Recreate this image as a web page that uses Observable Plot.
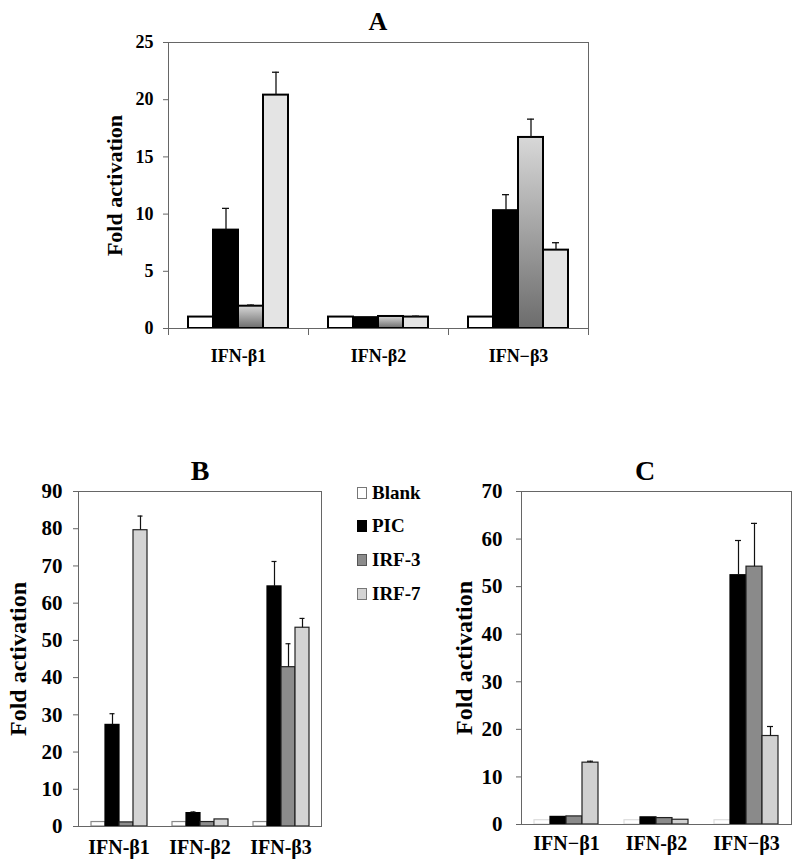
<!DOCTYPE html>
<html><head><meta charset="utf-8">
<script src="https://cdn.jsdelivr.net/npm/d3@7"></script>
<script src="https://cdn.jsdelivr.net/npm/@observablehq/plot@0.6"></script>
<style>
body{margin:0;background:#fff;}
#wrap{position:relative;width:800px;height:863px;overflow:hidden;font-family:"Liberation Serif","Times New Roman",serif;font-weight:bold;color:#000;background:#fff;}
.title{position:absolute;transform:translateX(-50%);line-height:1;white-space:nowrap;}
.leg{position:absolute;left:357px;font-size:19px;line-height:1;display:flex;align-items:center;white-space:nowrap;}
.sw{display:inline-block;width:10px;height:12px;box-sizing:border-box;margin-right:5px;}
svg text{font-weight:bold;}
</style></head><body>
<svg width="0" height="0" style="position:absolute"><defs>
<linearGradient id="gradA" x1="0" y1="0" x2="0" y2="1"><stop offset="0" stop-color="#d8d8d8"/><stop offset="1" stop-color="#6c6c6c"/></linearGradient>
</defs></svg>
<div id="wrap"></div>
<script>
// ---------- data ----------
const treatments = ["Blank", "PIC", "IRF-3", "IRF-7"];

// Panel A
const genesA = ["IFN-β1", "IFN-β2", "IFN−β3"];
const aBlank = [1, 1, 1];
const aPIC = [8.6, 0.95, 10.3];
const aIRF3 = [1.95, 1.05, 16.7];
const aIRF7 = [20.4, 1.0, 6.85];
const aBlankErr = [0, 0, 0];
const aPICErr = [1.9, 0, 1.4];
const aIRF3Err = [0.1, 0, 1.6];
const aIRF7Err = [2.0, 0.08, 0.65];
const yTicksA = [0, 5, 10, 15, 20, 25];

// Panel B
const genesB = ["IFN-β1", "IFN-β2", "IFN-β3"];
const bBlank = [1.2, 1.2, 1.2];
const bPIC = [27.3, 3.6, 64.5];
const bIRF3 = [1.1, 1.2, 42.8];
const bIRF7 = [79.6, 1.9, 53.4];
const bBlankErr = [0, 0, 0];
const bPICErr = [3.0, 0.3, 6.7];
const bIRF3Err = [0, 0, 6.3];
const bIRF7Err = [3.8, 0, 2.5];
const yTicksB = [0, 10, 20, 30, 40, 50, 60, 70, 80, 90];

// Panel C
const genesC = ["IFN−β1", "IFN-β2", "IFN−β3"];
const cBlank = [0.9, 0.9, 0.9];
const cPIC = [1.6, 1.5, 52.4];
const cIRF3 = [1.7, 1.35, 54.2];
const cIRF7 = [13.0, 1.0, 18.6];
const cBlankErr = [0, 0, 0];
const cPICErr = [0, 0, 7.3];
const cIRF3Err = [0, 0, 9.1];
const cIRF7Err = [0.3, 0, 2.0];
const yTicksC = [0, 10, 20, 30, 40, 50, 60, 70];

const yLabel = "Fold activation";

// ---------- drawing ----------
const wrap = document.getElementById("wrap");

function panel(cfg) {
  const rows = [];
  treatments.forEach((t, i) => cfg.genes.forEach((g, j) =>
    rows.push({gene: g, treat: t, value: cfg.values[i][j], err: cfg.errs[i][j]})));
  const marks = [];
  treatments.forEach((t, i) => {
    marks.push(Plot.barY(rows.filter(d => d.treat === t), {
      fx: "gene", x: "treat", y: "value",
      fill: cfg.fills[i], stroke: cfg.strokes[i], strokeWidth: cfg.barStroke
    }));
  });
  const eb = rows.filter(d => d.err > 0);
  marks.push(Plot.ruleX(eb, {fx: "gene", x: "treat", y1: "value", y2: d => d.value + d.err, stroke: "#111", strokeWidth: cfg.errStroke}));
  marks.push(Plot.tickY(eb, {fx: "gene", x: "treat", y: d => d.value + d.err, stroke: "#111", strokeWidth: cfg.errStroke, insetLeft: cfg.capInset, insetRight: cfg.capInset}));
  const fc = cfg.frameColor;
  marks.push(Plot.frame({anchor: "top", stroke: fc, strokeWidth: 1}));
  marks.push(Plot.frame({anchor: "bottom", stroke: fc, strokeWidth: 1}));
  marks.push(Plot.frame({anchor: "left", facetAnchor: "left", stroke: fc, strokeWidth: 1}));
  marks.push(Plot.frame({anchor: "right", facetAnchor: "right", stroke: fc, strokeWidth: 1}));
  if (cfg.groupTicks) {
    const ih = cfg.height - cfg.marginTop - cfg.marginBottom;
    marks.push(Plot.frame({anchor: "left", stroke: fc, insetTop: ih, insetBottom: -6}));
    marks.push(Plot.frame({anchor: "right", facetAnchor: "right", stroke: fc, insetTop: ih, insetBottom: -6}));
  }
  marks.push(Plot.axisY(cfg.yTicks, {tickSize: 5, tickPadding: cfg.tickPadding, fontSize: cfg.tickFont, fontWeight: "bold", label: null, stroke: fc, fill: "black"}));
  marks.push(Plot.axisFx({anchor: "bottom", tickSize: 0, tickPadding: cfg.fxPadding, fontSize: cfg.fxFont, fontWeight: "bold", label: null, fill: "black"}));
  marks.push(Plot.text([yLabel], {frameAnchor: "left", facetAnchor: "left", rotate: -90, dx: cfg.labelDx, fontSize: cfg.labelFont, fontWeight: "bold", textAnchor: "middle", fill: "black"}));

  const svg = Plot.plot({
    width: cfg.width, height: cfg.height,
    marginLeft: cfg.marginLeft, marginRight: cfg.marginRight,
    marginTop: cfg.marginTop, marginBottom: cfg.marginBottom,
    fx: {domain: cfg.genes, padding: 0},
    x: {domain: treatments, paddingInner: 0, paddingOuter: 0.72, axis: null},
    y: {domain: [0, cfg.yMax]},
    style: {fontFamily: '"Liberation Serif", "Times New Roman", serif', fontWeight: "bold", color: "black", background: "transparent", overflow: "visible"},
    marks
  });
  svg.style.position = "absolute";
  svg.style.left = cfg.left + "px";
  svg.style.top = cfg.top + "px";
  wrap.appendChild(svg);
}

panel({
  left: 0, top: 0, width: 800, height: 375,
  marginLeft: 168, marginRight: 212, marginTop: 42, marginBottom: 47,
  genes: genesA, values: [aBlank, aPIC, aIRF3, aIRF7], errs: [aBlankErr, aPICErr, aIRF3Err, aIRF7Err],
  fills: ["white", "black", "url(#gradA)", "#e4e4e4"], strokes: ["black", "black", "black", "black"],
  barStroke: 2, errStroke: 1.3, capInset: 9, frameColor: "#666",
  yTicks: yTicksA, yMax: 25, tickFont: 18, tickPadding: 10, fxFont: 18, fxPadding: 21,
  labelDx: -54, labelFont: 22, groupTicks: true
});

panel({
  left: 0, top: 460, width: 340, height: 403,
  marginLeft: 77, marginRight: 18, marginTop: 31, marginBottom: 37,
  genes: genesB, values: [bBlank, bPIC, bIRF3, bIRF7], errs: [bBlankErr, bPICErr, bIRF3Err, bIRF7Err],
  fills: ["white", "black", "#8c8c8c", "#d4d4d4"], strokes: ["#888", "black", "#222", "#222"],
  barStroke: 1.2, errStroke: 1.2, capInset: 4.5, frameColor: "#666",
  yTicks: yTicksB, yMax: 90, tickFont: 21, tickPadding: 11, fxFont: 20, fxPadding: 13,
  labelDx: -60, labelFont: 24, groupTicks: false
});

panel({
  left: 340, top: 460, width: 460, height: 403,
  marginLeft: 180, marginRight: 9, marginTop: 31, marginBottom: 39,
  genes: genesC, values: [cBlank, cPIC, cIRF3, cIRF7], errs: [cBlankErr, cPICErr, cIRF3Err, cIRF7Err],
  fills: ["white", "black", "#8a8a8a", "#d0d0d0"], strokes: ["#ddd", "black", "#222", "#222"],
  barStroke: 1.2, errStroke: 1.2, capInset: 5, frameColor: "#666",
  yTicks: yTicksC, yMax: 70, tickFont: 21, tickPadding: 14, fxFont: 20, fxPadding: 11,
  labelDx: -57, labelFont: 24, groupTicks: false
});

// titles
const titles = [["A", 378, 9, 26], ["B", 200, 457, 28], ["C", 645, 457, 28]];
titles.forEach(([t, x, y, fs]) => {
  const d = document.createElement("div");
  d.className = "title"; d.textContent = t;
  d.style.left = x + "px"; d.style.top = y + "px"; d.style.fontSize = fs + "px";
  wrap.appendChild(d);
});

// legend
const legendFills = ["white", "black", "#8c8c8c", "#d4d4d4"];
const legendStrokes = ["#777", "#000", "#555", "#777"];
const legendY = [483, 516, 550, 584];
treatments.forEach((t, i) => {
  const d = document.createElement("div");
  d.className = "leg"; d.style.top = legendY[i] + "px";
  const s = document.createElement("span");
  s.className = "sw"; s.style.background = legendFills[i]; s.style.border = "1.5px solid " + legendStrokes[i];
  d.appendChild(s);
  d.appendChild(document.createTextNode(t));
  wrap.appendChild(d);
});
</script>
</body></html>
